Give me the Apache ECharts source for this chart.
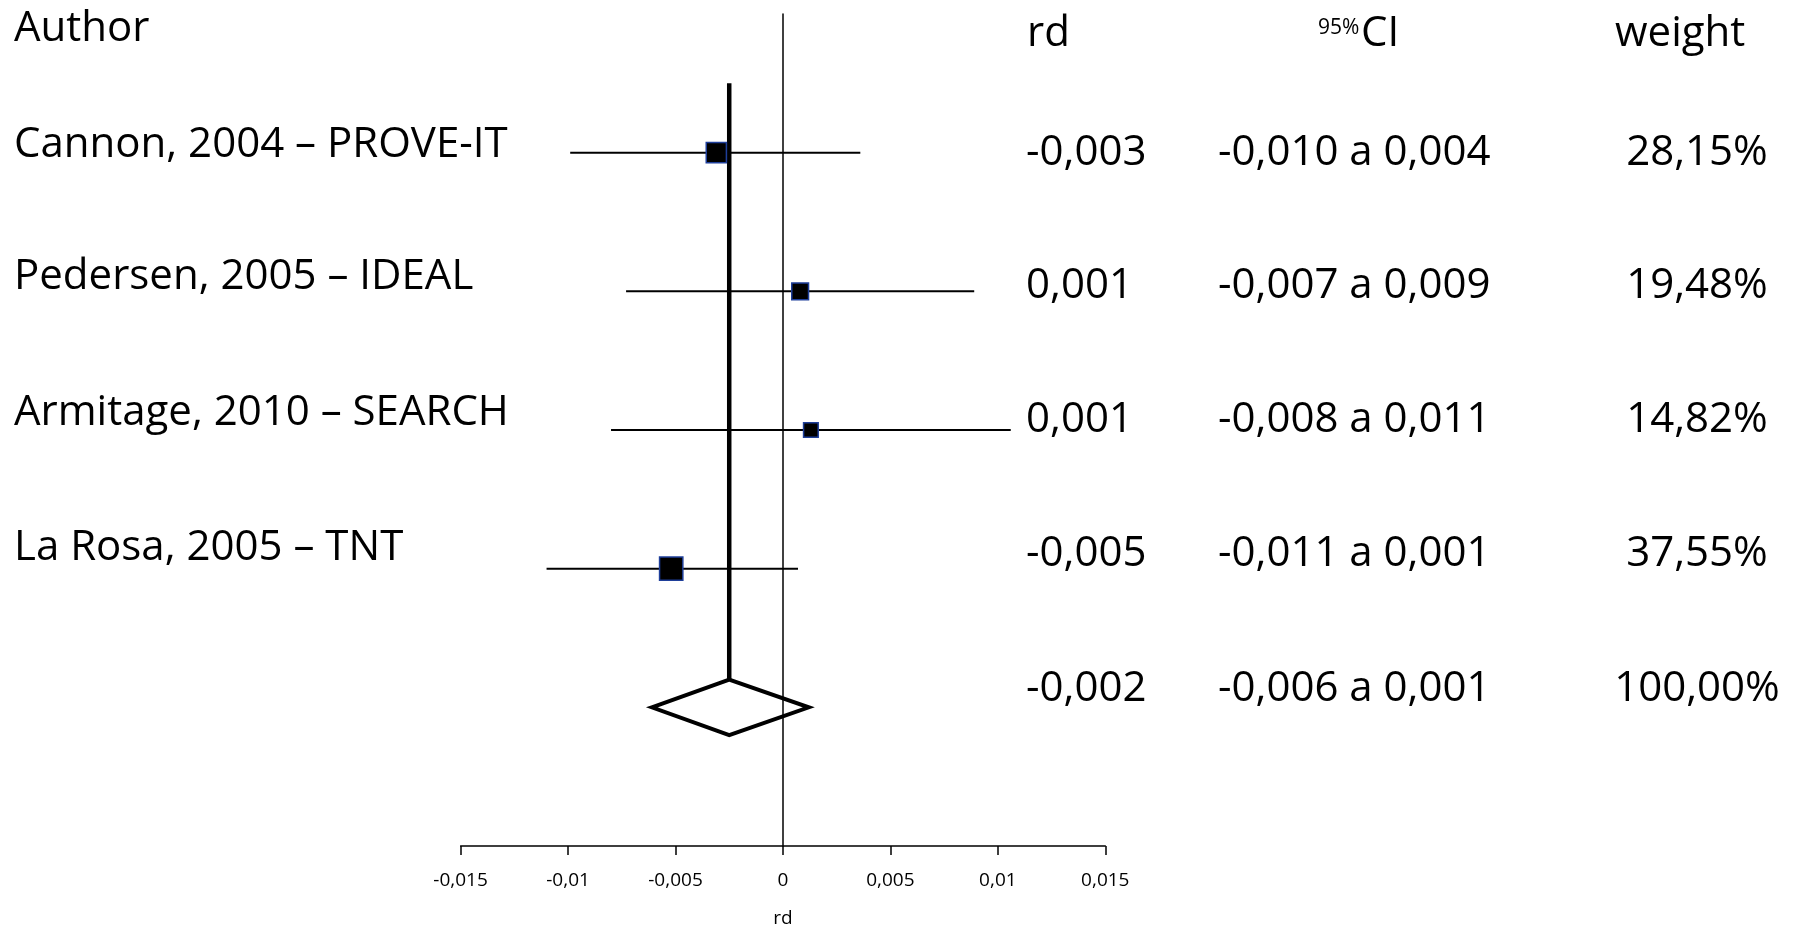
<!DOCTYPE html>
<html>
<head>
<meta charset="utf-8">
<script src="https://cdn.jsdelivr.net/npm/echarts@6/dist/echarts.min.js"></script>
<style>
  html, body { margin: 0; padding: 0; background: #fff; }
  #chart { width: 1798px; height: 933px; }
</style>
</head>
<body>
<div id="chart"></div>
<script>
// studies, top to bottom
const studies = ['Cannon, 2004 – PROVE-IT', 'Pedersen, 2005 – IDEAL', 'Armitage, 2010 – SEARCH', 'La Rosa, 2005 – TNT']
const rd = [-0.0031, 0.0008, 0.0013, -0.0052]
const ciLow = [-0.0099, -0.0073, -0.0080, -0.0110]
const ciHigh = [0.0036, 0.0089, 0.0106, 0.0007]
const weights = [28.15, 19.48, 14.82, 37.55]

// pooled estimate (diamond)
const pooledRd = -0.0025
const pooledLow = -0.0061
const pooledHigh = 0.0012

// table columns (last entry = pooled row)
const rdText = ['-0,003', '0,001', '0,001', '-0,005', '-0,002']
const ciText = ['-0,010 a 0,004', '-0,007 a 0,009', '-0,008 a 0,011', '-0,011 a 0,001', '-0,006 a 0,001']
const weightText = ['28,15%', '19,48%', '14,82%', '37,55%', '100,00%']

const xTickLabels = ['-0,015', '-0,01', '-0,005', '0', '0,005', '0,01', '0,015']

const FONT = '"Open Sans", "Noto Sans", sans-serif'
const yMax = studies.length + 2
const rowOf = i => studies.length + 1 - i // study rows 5..2, pooled row 1

const chart = echarts.init(document.getElementById('chart'))

function txt(str, x, y, size, align) {
  return {
    type: 'text',
    x: x,
    y: y,
    style: {
      text: str,
      fill: '#000',
      font: size + 'px ' + FONT,
      align: align || 'left',
      verticalAlign: 'middle'
    }
  }
}

// table text positions (layout only)
const authorY = [145, 277, 413, 548]
const valueY = [153, 286, 420, 554, 689]
const graphics = [
  txt('Author', 14, 29, 42),
  txt('rd', 1027, 34, 42),
  txt('95%', 1318, 28, 21),
  txt('CI', 1361, 34, 42),
  txt('weight', 1615, 34, 42)
]
studies.forEach((s, i) => graphics.push(txt(s, 14, authorY[i], 42)))
rdText.forEach((s, i) => {
  graphics.push(txt(s, 1026, valueY[i], 42))
  graphics.push(txt(ciText[i], 1218, valueY[i], 42))
  graphics.push(txt(weightText[i], 1697, valueY[i], 42, 'center'))
})

const option = {
  animation: false,
  backgroundColor: '#fff',
  grid: { left: 460.6, right: 692.7, top: 14, bottom: 84.5 },
  xAxis: {
    type: 'value',
    min: -0.015,
    max: 0.015,
    interval: 0.005,
    name: 'rd',
    nameLocation: 'middle',
    nameGap: 63,
    nameTextStyle: { color: '#000', fontSize: 19, fontFamily: FONT },
    axisLine: { onZero: false, lineStyle: { color: '#000', width: 1.5 } },
    axisTick: { show: true, length: 9, lineStyle: { color: '#000', width: 1.5 } },
    axisLabel: {
      color: '#000',
      fontSize: 19,
      fontFamily: FONT,
      margin: 25,
      showMinLabel: true,
      showMaxLabel: true,
      formatter: (v, idx) => xTickLabels[idx]
    },
    splitLine: { show: false }
  },
  yAxis: {
    type: 'value',
    min: 0,
    max: yMax,
    axisLine: { show: true, onZero: true, lineStyle: { color: '#000', width: 1.5 } },
    axisTick: { show: false },
    axisLabel: { show: false },
    splitLine: { show: false }
  },
  graphic: graphics,
  series: [
    {
      // confidence interval whiskers
      type: 'custom',
      encode: { x: [0, 1], y: 2 },
      data: studies.map((s, i) => [ciLow[i], ciHigh[i], rowOf(i)]),
      renderItem: (params, api) => {
        const a = api.coord([api.value(0), api.value(2)])
        const b = api.coord([api.value(1), api.value(2)])
        return {
          type: 'line',
          shape: { x1: a[0], y1: a[1], x2: b[0], y2: b[1] },
          style: { stroke: '#000', lineWidth: 2 }
        }
      },
      z: 2
    },
    {
      // pooled: vertical reference line + diamond
      type: 'custom',
      encode: { x: [0, 1, 2], y: 3 },
      data: [[pooledLow, pooledRd, pooledHigh, 1]],
      renderItem: (params, api) => {
        const row = api.value(3)
        const est = api.value(1)
        const l = api.coord([api.value(0), row])
        const top = api.coord([est, row + 0.2])
        const r = api.coord([api.value(2), row])
        const bot = api.coord([est, row - 0.2])
        const lineTop = api.coord([est, yMax - 0.5])
        return {
          type: 'group',
          children: [
            {
              type: 'line',
              shape: { x1: lineTop[0], y1: lineTop[1], x2: top[0], y2: top[1] },
              style: { stroke: '#000', lineWidth: 4.5 }
            },
            {
              type: 'polygon',
              shape: { points: [l, top, r, bot] },
              style: { fill: 'rgba(255,255,255,0)', stroke: '#000', lineWidth: 4, lineJoin: 'miter' }
            }
          ]
        }
      },
      z: 3
    },
    {
      // study point estimates, box size by weight
      type: 'scatter',
      symbol: 'rect',
      symbolSize: val => 3.8 * Math.sqrt(val[2]),
      data: rd.map((v, i) => [v, rowOf(i), weights[i]]),
      itemStyle: { color: '#000', borderColor: '#1f3f9a', borderWidth: 1.5, opacity: 1 },
      z: 4
    }
  ]
}

chart.setOption(option)
</script>
</body>
</html>
